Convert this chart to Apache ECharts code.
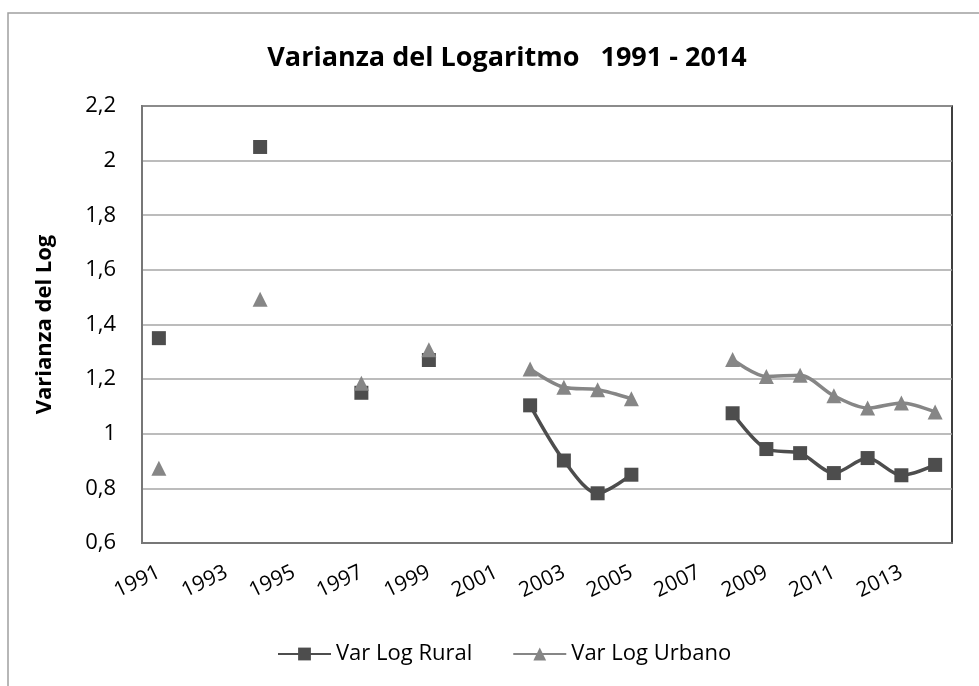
<!DOCTYPE html>
<html>
<head>
<meta charset="utf-8">
<script src="https://cdn.jsdelivr.net/npm/echarts@6/dist/echarts.min.js"></script>
<style>
  html, body { margin: 0; padding: 0; background: #fff; }
  #chart { width: 979px; height: 686px; }
</style>
</head>
<body>
<div id="chart"></div>
<script>
// años 1991 - 2014 (eje de categorías)
var years = [];
for (var y = 1991; y <= 2014; y++) years.push(String(y));

var rural = [1.35, null, null, 2.05, null, null, 1.15, null, 1.27, null, null,
  1.104, 0.902, 0.782, 0.85, null, null,
  1.075, 0.944, 0.929, 0.856, 0.911, 0.848, 0.886];
var urbano = [0.874, null, null, 1.492, null, null, 1.185, null, 1.308, null, null,
  1.237, 1.17, 1.161, 1.128, null, null,
  1.272, 1.21, 1.214, 1.139, 1.094, 1.113, 1.08];

var yMin = 0.6, yMax = 2.2, yStep = 0.2;

var font = '"Open Sans", "Liberation Sans", sans-serif';
var chart = echarts.init(document.getElementById('chart'));

var option = {
  backgroundColor: '#fff',
  animation: false,
  textStyle: { fontFamily: font },
  graphic: [{
    type: 'rect',
    shape: { x: 8, y: 13, width: 990, height: 700 },
    style: { fill: 'none', stroke: '#a0a0a0', lineWidth: 1.5 },
    silent: true
  }],
  title: {
    text: 'Varianza del Logaritmo   1991 - 2014',
    left: 502,
    top: 40,
    textAlign: 'center',
    textStyle: { fontFamily: font, fontSize: 27, fontWeight: 'bold', color: '#000' }
  },
  grid: {
    left: 142,
    right: 27,
    top: 106,
    bottom: 143,
    show: true,
    borderColor: '#000',
    borderWidth: 1.5
  },
  legend: {
    bottom: 16,
    left: 272,
    itemWidth: 53,
    itemHeight: 16,
    itemGap: 40,
    textStyle: { fontFamily: font, fontSize: 22, color: '#000' },
    data: ['Var Log Rural', 'Var Log Urbano']
  },
  xAxis: {
    type: 'category',
    data: years,
    boundaryGap: true,
    axisLine: { lineStyle: { color: '#777', width: 2 } },
    axisTick: { show: false },
    axisLabel: {
      interval: 1,
      rotate: 26,
      fontSize: 21,
      color: '#000',
      margin: 28,
      fontFamily: font
    }
  },
  yAxis: {
    type: 'value',
    min: yMin,
    max: yMax,
    interval: yStep,
    name: 'Varianza del Log',
    nameLocation: 'middle',
    nameGap: 86,
    nameRotate: 90,
    nameTextStyle: { fontFamily: font, fontSize: 22, fontWeight: 'bold', color: '#000' },
    axisLine: { show: true, lineStyle: { color: '#777', width: 2 } },
    axisTick: { show: false },
    splitLine: { lineStyle: { color: '#a6a6a6', width: 1.5 } },
    axisLabel: {
      fontSize: 22,
      color: '#000',
      margin: 26,
      fontFamily: font,
      formatter: function (v) {
        return String(Math.round(v * 10) / 10).replace('.', ',');
      }
    }
  },
  series: [{
    name: 'Var Log Rural',
    type: 'line',
    data: rural,
    smooth: 0.3,
    connectNulls: false,
    symbol: 'rect',
    symbolSize: 14,
    showAllSymbol: true,
    color: '#4d4d4d',
    lineStyle: { color: '#4d4d4d', width: 3.5 },
    itemStyle: { color: '#4d4d4d' }
  }, {
    name: 'Var Log Urbano',
    type: 'line',
    data: urbano,
    smooth: 0.3,
    connectNulls: false,
    symbol: 'triangle',
    symbolSize: 15,
    showAllSymbol: true,
    color: '#868686',
    lineStyle: { color: '#868686', width: 3.5 },
    itemStyle: { color: '#868686' }
  }]
};

chart.setOption(option);
</script>
</body>
</html>
